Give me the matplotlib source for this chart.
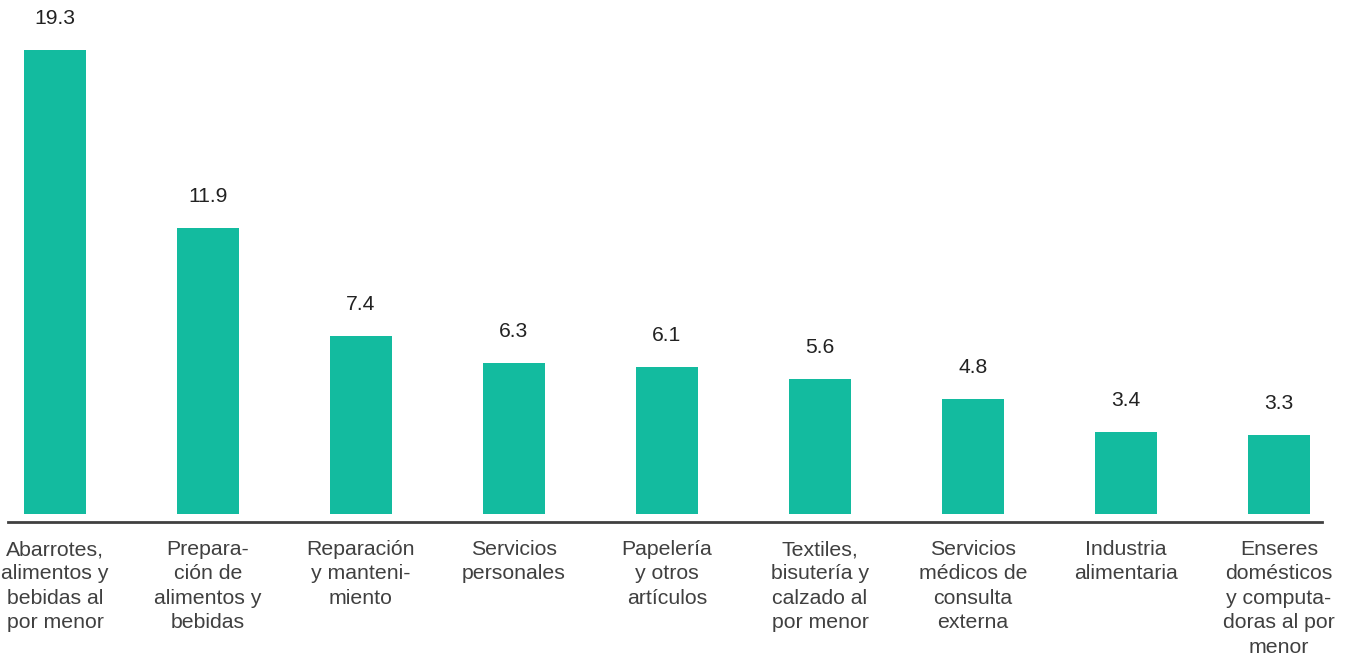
import matplotlib
matplotlib.use("Agg")
import matplotlib.pyplot as plt

plt.rcParams['font.family'] = ['Liberation Sans', 'DejaVu Sans']

categories = [
    "Abarrotes,\nalimentos y\nbebidas al\npor menor",
    "Prepara-\nción de\nalimentos y\nbebidas",
    "Reparación\ny manteni-\nmiento",
    "Servicios\npersonales",
    "Papelería\ny otros\nartículos",
    "Textiles,\nbisutería y\ncalzado al\npor menor",
    "Servicios\nmédicos de\nconsulta\nexterna",
    "Industria\nalimentaria",
    "Enseres\ndomésticos\ny computa-\ndoras al por\nmenor",
]
values = [19.3, 11.9, 7.4, 6.3, 6.1, 5.6, 4.8, 3.4, 3.3]

W, H = 1350, 661
fig = plt.figure(figsize=(W / 100, H / 100), dpi=100)
ax = fig.add_axes([8 / W, 139 / H, 1314 / W, 522 / H])

bar_color = "#13BB9F"
x = list(range(len(values)))
ax.bar(x, values, width=0.405, color=bar_color, zorder=2)

ax.set_xlim(-0.307, 8.281)
px_per_unit = 464 / 19.3
ybot = -8 / px_per_unit
ax.set_ylim(ybot, ybot + 522 / px_per_unit)

for s in ["top", "right", "left"]:
    ax.spines[s].set_visible(False)
ax.spines["bottom"].set_color("#404040")
ax.spines["bottom"].set_linewidth(2)
ax.set_yticks([])
ax.set_xticks([])

for xi, v in zip(x, values):
    ax.annotate(f"{v:.1f}", (xi, v), xytext=(0, 22), textcoords="offset pixels",
                ha="center", va="bottom", fontsize=15.2, color="#222222")

for xi, lab in zip(x, categories):
    ax.annotate(lab, (xi, ybot), xytext=(0, -18), textcoords="offset pixels",
                ha="center", va="top", fontsize=15.3, color="#404040",
                linespacing=1.36, annotation_clip=False)

fig.savefig("out.png", dpi=100)
